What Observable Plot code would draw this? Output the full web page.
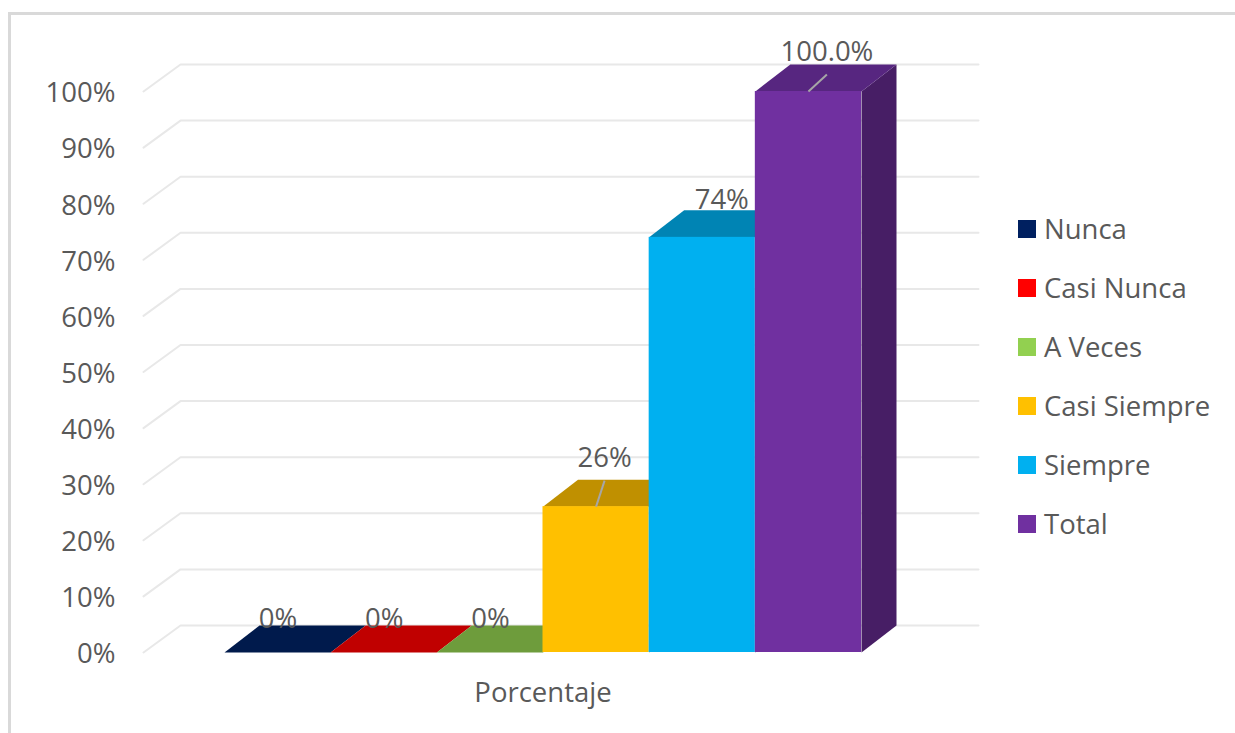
<!DOCTYPE html>
<html>
<head>
<meta charset="utf-8">
<script src="https://cdn.jsdelivr.net/npm/d3@7"></script>
<script src="https://cdn.jsdelivr.net/npm/@observablehq/plot@0.6"></script>
<style>
  html, body { margin: 0; padding: 0; background: #fff; }
  #wrap { position: relative; width: 1235px; height: 733px; overflow: hidden; background: #fff;
          font-family: "Open Sans", "Noto Sans", sans-serif; }
  #frame { position: absolute; left: 8px; top: 12px; width: 1400px; height: 900px;
           border: 3px solid #d9d9d9; box-sizing: border-box; pointer-events: none; }
  #chart { position: absolute; left: 0; top: 0; }
  #legend { position: absolute; left: 1018px; top: 199px; }
  .row { display: flex; align-items: center; height: 59px; color: #595959; font-size: 27.5px; white-space: nowrap; }
  .sw { width: 18px; height: 18px; margin-right: 8px; flex: none; }
</style>
</head>
<body>
<div id="wrap">
  <div id="chart"></div>
  <div id="legend"></div>
  <div id="frame"></div>
</div>
<script>
// ---- data ----
const categories = ["Nunca", "Casi Nunca", "A Veces", "Casi Siempre", "Siempre", "Total"];
const values = [0, 0, 0, 0.26, 0.74, 1.0];
const valueLabels = ["0%", "0%", "0%", "26%", "74%", "100.0%"];
const colors = ["#002060", "#FF0000", "#92D050", "#FFC000", "#00B0F0", "#7030A0"];
const topColors = ["#001A4C", "#C00000", "#6E9C3C", "#C09000", "#0084B4", "#572680"];
const sideColors = ["#001438", "#990000", "#587D30", "#9A7300", "#006A90", "#471E65"];
const tickValues = [0, 0.1, 0.2, 0.3, 0.4, 0.5, 0.6, 0.7, 0.8, 0.9, 1.0];
const tickLabels = ["0%", "10%", "20%", "30%", "40%", "50%", "60%", "70%", "80%", "90%", "100%"];
const axisTitle = "Porcentaje";
const showLeader = [false, false, false, true, false, true];

// ---- styling / geometry (pixels) ----
const W = 1235, H = 733;
const X_RANGE = [224, 861], Y_RANGE = [652, 91];
const XU = (X_RANGE[1] - X_RANGE[0]) / categories.length;
const YU = (Y_RANGE[0] - Y_RANGE[1]);
const px2x = p => p / XU;
const px2y = p => p / YU;
const ddx = px2x(35), ddy = px2y(27);          // bar depth
const gx0 = px2x(143 - X_RANGE[0]);             // gridline front x
const gdx = px2x(37), gdy = px2y(27);          // floor depth
const gxEnd = px2x(978 - X_RANGE[0]);
const labelShift = [-17, -17, -17, -9, 2, 1];   // px
const labelLift = [6, 6, 6, 21, 10, 12];       // px
const TXT = "#595959";
const FS = 27.5;

const bars = categories.map((c, i) => ({c, i, v: values[i]}));

const gridPts = tickValues.flatMap(t => [
  {k: t, x: gx0, y: t},
  {k: t, x: gx0 + gdx, y: t + gdy},
  {k: t, x: gxEnd, y: t + gdy}
]);

const sideFace = b => [
  {x: b.i + 1, y: 0}, {x: b.i + 1 + ddx, y: ddy},
  {x: b.i + 1 + ddx, y: b.v + ddy}, {x: b.i + 1, y: b.v}
];
const topFace = b => [
  {x: b.i, y: b.v}, {x: b.i + ddx, y: b.v + ddy},
  {x: b.i + 1 + ddx, y: b.v + ddy}, {x: b.i + 1, y: b.v}
];

const labels = bars.map(b => ({
  text: valueLabels[b.i],
  x: b.i + 0.5 + ddx / 2 + px2x(labelShift[b.i]),
  y: b.v + ddy + px2y(labelLift[b.i])
}));
const leaders = bars.filter(b => showLeader[b.i]).map(b => ({
  x1: b.i + 0.5, y1: b.v,
  x2: labels[b.i].x, y2: labels[b.i].y - px2y(22)
}));

const plot = Plot.plot({
  width: W, height: H,
  marginTop: 0, marginRight: 0, marginBottom: 0, marginLeft: 0,
  style: {background: "transparent", fontFamily: "'Open Sans', 'Noto Sans', sans-serif"},
  x: {type: "linear", domain: [0, categories.length], range: X_RANGE, axis: null},
  y: {type: "linear", domain: [0, 1], range: Y_RANGE, axis: null},
  marks: [
    Plot.line(gridPts, {x: "x", y: "y", z: "k", stroke: "#e8e8e8", strokeWidth: 2}),
    Plot.text(tickValues, {x: () => gx0, y: d => d, text: (d, i) => tickLabels[i],
      textAnchor: "end", dx: -28, dy: 2, fontSize: FS, fill: TXT}),
    ...bars.map(b => Plot.line(sideFace(b), {x: "x", y: "y", fill: sideColors[b.i], stroke: "none", curve: "linear-closed"})),
    ...bars.map(b => Plot.line(topFace(b), {x: "x", y: "y", fill: topColors[b.i], stroke: "none", curve: "linear-closed"})),
    ...bars.map(b => Plot.rect([b], {x1: d => d.i, x2: d => d.i + 1, y1: () => 0, y2: d => d.v, fill: colors[b.i]})),
    Plot.link(leaders, {x1: "x1", y1: "y1", x2: "x2", y2: "y2", stroke: "#a6a6a6", strokeWidth: 2}),
    Plot.text(labels, {x: "x", y: "y", text: "text", fontSize: FS, fill: TXT, lineAnchor: "middle"}),
    Plot.text([axisTitle], {x: () => categories.length / 2, y: () => 0, text: d => d,
      dy: 41, fontSize: FS, fill: TXT})
  ]
});
document.getElementById("chart").appendChild(plot);

const legend = document.getElementById("legend");
categories.forEach((c, i) => {
  const row = document.createElement("div");
  row.className = "row";
  const sw = document.createElement("span");
  sw.className = "sw";
  sw.style.background = colors[i];
  const t = document.createElement("span");
  t.textContent = c;
  row.appendChild(sw); row.appendChild(t);
  legend.appendChild(row);
});
</script>
</body>
</html>
